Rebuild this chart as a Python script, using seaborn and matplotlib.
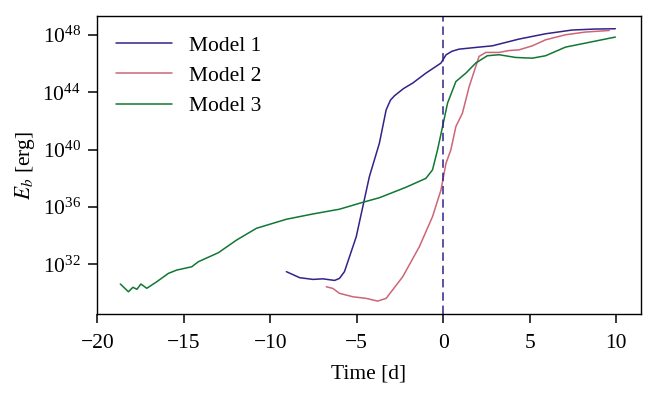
import numpy as np
import pandas as pd
import matplotlib
matplotlib.use("Agg")
import matplotlib.pyplot as plt
import matplotlib.ticker as mticker
import seaborn as sns

# ---- data (time in days, log10 of E_b in erg) ----
t1 = [-9.07, -8.30, -7.53, -6.96, -6.28, -6.00, -5.71, -5.03, -4.27, -3.69, -3.30, -3.05,
      -2.82, -2.30, -1.77, -1.00, -0.13, 0.16, 0.50, 0.92, 2.07, 2.84, 4.38, 5.92, 7.45,
      8.80, 9.95]
logE1 = [31.5, 31.08, 30.96, 31.0, 30.89, 31.03, 31.5, 33.93, 38.12, 40.45, 42.77, 43.45,
         43.75, 44.25, 44.63, 45.33, 46.03, 46.6, 46.85, 47.0, 47.14, 47.23, 47.7, 48.07,
         48.33, 48.4, 48.42]

t2 = [-6.76, -6.38, -6.00, -5.22, -4.46, -3.79, -3.30, -2.34, -1.38, -0.62, -0.13, 0.16,
      0.44, 0.73, 1.11, 1.50, 2.07, 2.46, 3.23, 3.80, 4.38, 5.15, 5.92, 7.07, 8.22, 9.60]
logE2 = [30.45, 30.33, 29.99, 29.75, 29.64, 29.45, 29.64, 31.15, 33.24, 35.33, 37.19, 39.05,
         39.98, 41.6, 42.54, 44.39, 46.49, 46.77, 46.77, 46.9, 46.95, 47.23, 47.65, 48.0,
         48.19, 48.3]

t3 = [-18.67, -18.2, -17.94, -17.71, -17.48, -17.14, -16.56, -15.89, -15.41, -14.54, -14.16,
      -13.0, -11.95, -10.80, -9.84, -9.07, -7.53, -6.00, -4.65, -3.69, -2.15, -1.00, -0.62,
      -0.33, -0.04, 0.25, 0.73, 1.31, 1.88, 2.55, 3.23, 4.19, 5.15, 5.92, 7.07, 8.22, 9.95]
logE3 = [30.64, 30.1, 30.41, 30.27, 30.64, 30.34, 30.8, 31.38, 31.61, 31.84, 32.19,
         32.82, 33.7, 34.52, 34.87, 35.15, 35.52, 35.85, 36.33, 36.65, 37.38, 38.0, 38.59,
         39.98, 41.6, 43.24, 44.74, 45.33, 46.03, 46.54, 46.61, 46.42, 46.37, 46.54, 47.14,
         47.42, 47.84]

models = ["Model 1", "Model 2", "Model 3"]
colors = ["#332288", "#CC6677", "#117733"]
yticks = [1e32, 1e36, 1e40, 1e44, 1e48]
xticks = [-20, -15, -10, -5, 0, 5, 10]

frames = []
for name, t, le in zip(models, [t1, t2, t3], [logE1, logE2, logE3]):
    frames.append(pd.DataFrame({"t": t, "E": 10.0 ** np.array(le), "model": name}))
df = pd.concat(frames, ignore_index=True)

sns.set_theme(style="ticks", rc={"text.color": "black", "axes.labelcolor": "black",
                                 "xtick.color": "black", "ytick.color": "black",
                                 "axes.edgecolor": "black"})
plt.rcParams["font.family"] = ["Liberation Serif", "DejaVu Serif"]
plt.rcParams["mathtext.fontset"] = "stix"
plt.rcParams["font.size"] = 15.5

fig = plt.figure(figsize=(6.54, 3.93), dpi=100)
ax = fig.add_axes([0.148, 0.201, 0.832, 0.758])

sns.lineplot(data=df, x="t", y="E", hue="model", palette=colors, ax=ax,
             linewidth=1.1, sort=False, estimator=None)
ax.set_yscale("log")
ax.axvline(0, color=colors[0], linestyle=(0, (5.5, 3.2)), linewidth=1.1)

ax.set_yticks(yticks)
ax.yaxis.set_minor_locator(mticker.NullLocator())
ax.set_xticks(xticks)
ax.set_xlim(-20.03, 11.43)
ax.set_ylim(10 ** 28.55, 10 ** 49.3)
ax.tick_params(labelsize=15.5, direction="out", length=6.5, width=1.1, pad=5)
ax.tick_params(axis="x", pad=8)
for s in ax.spines.values():
    s.set_linewidth(1)
    s.set_visible(True)

ax.set_xlabel("Time [d]", fontsize=15.5, labelpad=8)
ax.set_ylabel(r"$E_b$ [erg]", fontsize=15.5, labelpad=4)
leg = ax.legend(frameon=False, loc="upper left", fontsize=15.5, handlelength=2.6,
                borderaxespad=0.5, labelspacing=0.48)

fig.savefig("out.png", dpi=100)
